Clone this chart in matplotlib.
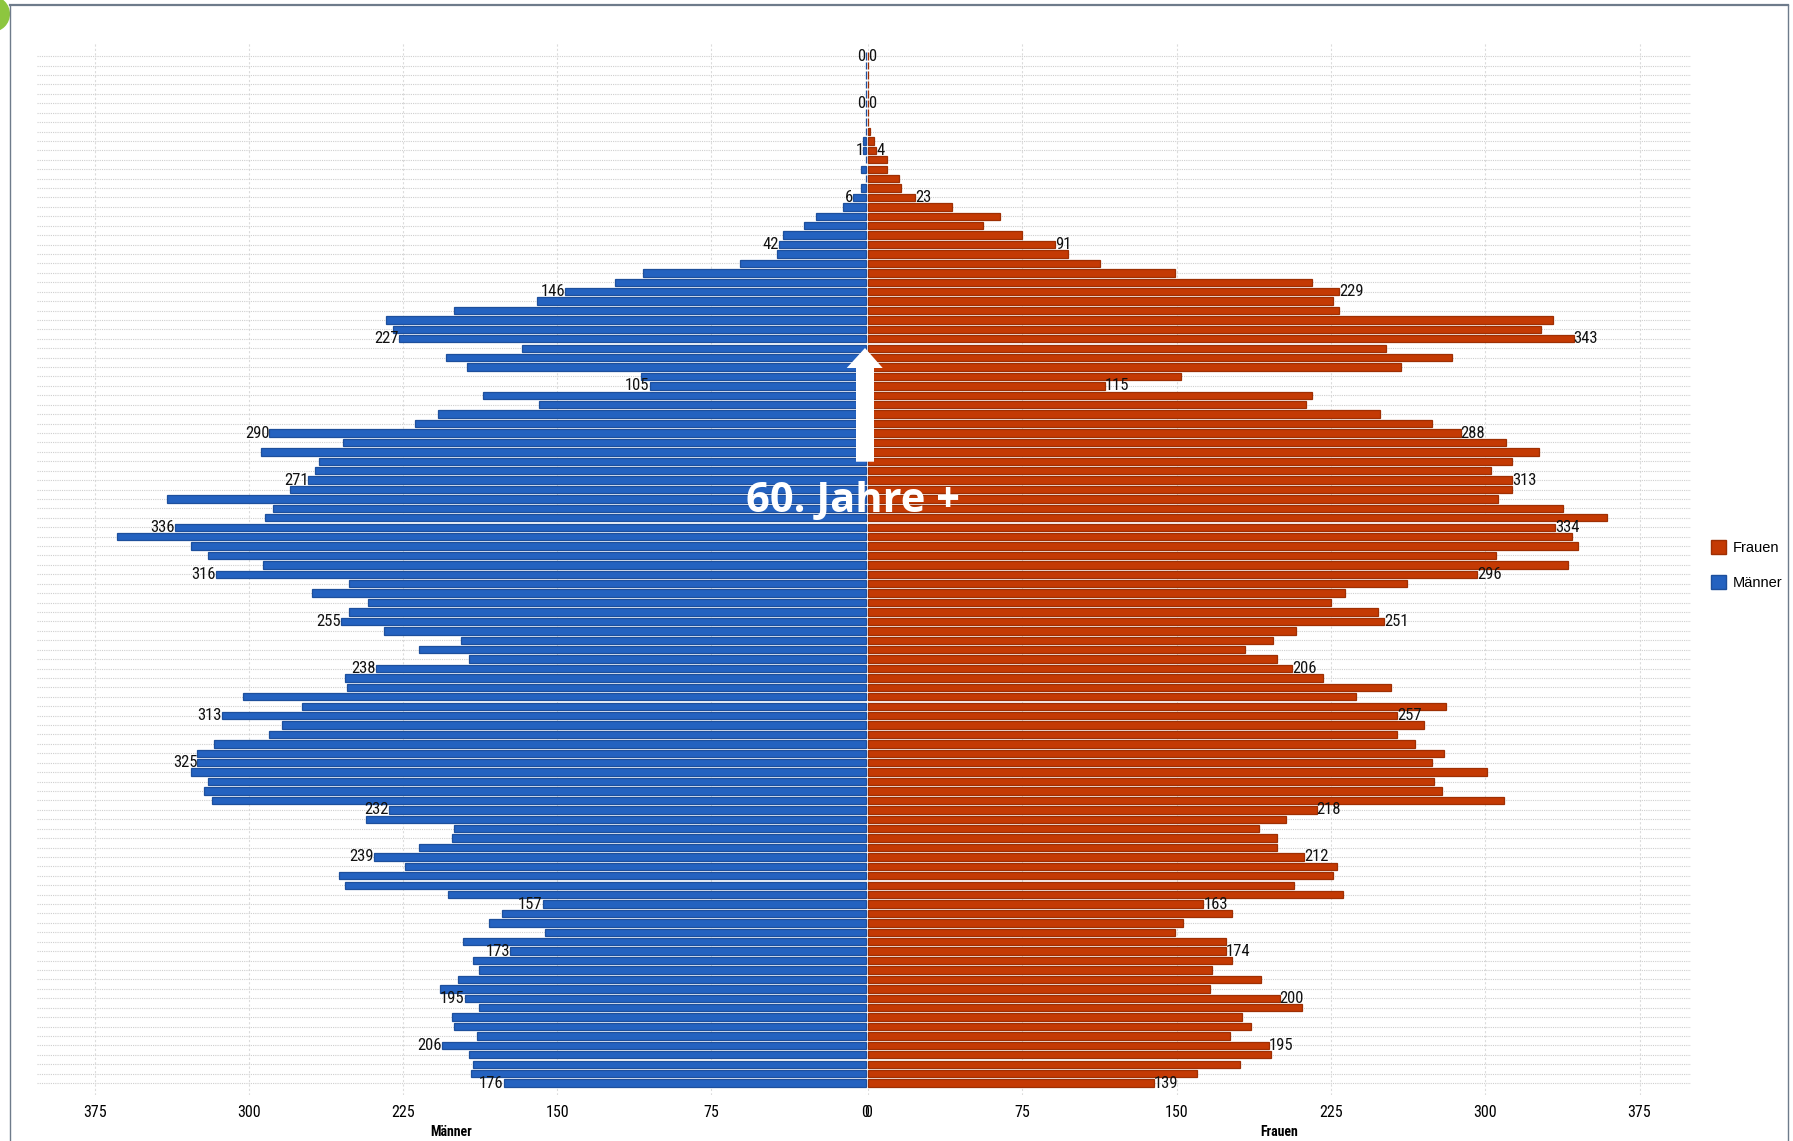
import matplotlib
matplotlib.use("Agg")
import matplotlib.pyplot as plt
from matplotlib import font_manager as fm
from matplotlib.patches import Patch, Polygon, Ellipse
from matplotlib.lines import Line2D

# ---------------- data ----------------
ages = list(range(1, 111))  # bottom (1) to top (110)

maenner = [176, 192, 191, 193, 206, 189, 200, 201, 188, 195,
           207, 198, 188, 191, 173, 196, 156, 183, 177, 157,
           203, 253, 256, 224, 239, 217, 201, 200, 243, 232,
           318, 322, 320, 328, 325, 325, 317, 290, 284, 313,
           274, 303, 252, 253, 238, 193, 217, 197, 234, 255,
           251, 242, 269, 251, 316, 293, 320, 328, 364, 336,
           292, 288, 340, 280, 271, 268, 266, 294, 254, 290,
           219, 208, 159, 186, 105, 109, 194, 204, 167, 227,
           230, 233, 200, 160, 146, 122, 108, 61, 43, 42,
           40, 30, 24, 11, 6, 2, 0, 2, 0, 1,
           1, 0, 0, 0, 0, 0, 0, 0, 0, 0]

frauen = [139, 160, 181, 196, 195, 176, 186, 182, 211, 200,
          166, 191, 167, 177, 174, 174, 149, 153, 177, 163,
          231, 207, 226, 228, 212, 199, 199, 190, 203, 218,
          309, 279, 275, 301, 274, 280, 266, 257, 270, 257,
          281, 237, 254, 221, 206, 199, 183, 197, 208, 251,
          248, 225, 232, 262, 296, 340, 305, 345, 342, 334,
          359, 338, 306, 313, 313, 303, 313, 326, 310, 288,
          274, 249, 213, 216, 115, 152, 259, 284, 252, 343,
          327, 333, 229, 226, 229, 216, 149, 113, 97, 91,
          75, 56, 64, 41, 23, 16, 15, 9, 9, 4,
          3, 1, 0, 0, 0, 0, 0, 0, 0, 0]

label_ages_m = [1, 5, 10, 15, 20, 25, 30, 35, 40, 45, 50, 55, 60, 65, 70,
                75, 80, 85, 90, 95, 100, 105, 110]
label_ages_f = [1, 5, 10, 15, 20, 25, 30, 40, 45, 50, 55, 60, 65, 70,
                75, 80, 85, 90, 95, 100, 105, 110]

xticks = [0, 75, 150, 225, 300, 375]
series_names = ["Frauen", "Männer"]
annotation = "60. Jahre +"

# ---------------- style ----------------
W, H = 1793, 1141
BLUE, BLUE_E = "#2462c0", "#1d4f9c"
RED, RED_E = "#c43a04", "#9e2f03"
GRID = "#cfcfcf"

names = {f.name for f in fm.fontManager.ttflist}
narrow = None
for n in ["Liberation Sans Narrow", "Roboto Condensed", "Open Sans Condensed",
          "Arial Narrow"]:
    if n in names:
        narrow = n
        break
if narrow is None:
    NARROW = dict(family=["DejaVu Sans"], stretch="condensed")
else:
    NARROW = dict(family=[narrow, "DejaVu Sans"])

fig = plt.figure(figsize=(W / 100, H / 100), dpi=100)
fig.patch.set_facecolor("white")

top_f = 1 - 42.7 / H
bot_f = 1 - 1095 / H
axL = fig.add_axes([37 / W, bot_f, (865.5 - 37) / W, top_f - bot_f])
axR = fig.add_axes([868 / W, bot_f, (1691 - 868) / W, top_f - bot_f])

ylim = (-0.27, 111.43)

for ax, vals, col, ecol, lab_ages, xlim, ha, xlabel in [
        (axL, maenner, BLUE, BLUE_E, label_ages_m, (403, 0), "right", "Männer"),
        (axR, frauen, RED, RED_E, label_ages_f, (0, 400), "left", "Frauen")]:
    bars = ax.barh(ages, vals, height=0.78, color=col, edgecolor=ecol,
                   linewidth=0.9, zorder=3)
    for b in bars:
        b.set_clip_on(False)
    ax.set_xlim(*xlim)
    ax.set_ylim(*ylim)
    ax.set_yticks(ages)
    ax.set_yticklabels([])
    ax.set_xticks(xticks)
    ax.set_xticklabels([str(t) for t in xticks])
    ax.tick_params(axis="y", length=0)
    ax.tick_params(axis="x", length=0, pad=7, labelsize=11.5)
    for lbl in ax.get_xticklabels():
        lbl.set_fontproperties(fm.FontProperties(size=11.5, **NARROW))
    ax.grid(axis="y", color=GRID, linestyle=(0, (1, 1)), linewidth=0.8)
    ax.grid(axis="x", color="#dcdcdc", linestyle=(0, (2, 2)), linewidth=0.8)
    ax.set_axisbelow(True)
    for s in ax.spines.values():
        s.set_visible(False)
    ax.set_xlabel(xlabel, fontsize=10, fontweight="bold", labelpad=4, **NARROW)
    for a, v in zip(ages, vals):
        if a in lab_ages:
            ax.text(v, a, str(v), ha=ha, va="center", fontsize=12,
                    color="#111111", zorder=5, **NARROW)

# arrow (decoration)
def px(x, y):
    return (x / W, 1 - y / H)

arrow_pts = [px(856, 461.7), px(874, 461.7), px(874, 368), px(882.7, 368),
             px(865, 348), px(846.7, 368), px(856, 368)]
fig.patches.append(Polygon(arrow_pts, closed=True, facecolor="white",
                           edgecolor="none", transform=fig.transFigure,
                           zorder=10))

fig.text(853 / W, 1 - 511.7 / H, annotation, ha="center", va="baseline",
         color="white", fontsize=30, fontweight="bold",
         family=["Open Sans", "DejaVu Sans"], zorder=11)

# legend
handles = [Patch(facecolor=RED, edgecolor=RED_E, label=series_names[0]),
           Patch(facecolor=BLUE, edgecolor=BLUE_E, label=series_names[1])]
fig.legend(handles=handles, loc="center left",
           bbox_to_anchor=(1698 / W, 1 - 565 / H), frameon=False,
           handlelength=1.05, handleheight=1.1,
           handletextpad=0.45, labelspacing=1.4,
           prop=dict(family=["Liberation Sans", "DejaVu Sans"], size=10.5))

# frame & corner decoration
BORDER = "#6e7b8b"
fig.add_artist(Line2D([9.8 / W, 9.8 / W], [0, 1 - 5 / H], color=BORDER, lw=1.0,
                      transform=fig.transFigure))
fig.add_artist(Line2D([9.8 / W, 1788 / W], [1 - 5 / H, 1 - 5 / H],
                      color=BORDER, lw=1.6, transform=fig.transFigure))
fig.add_artist(Line2D([1788 / W, 1788 / W], [0, 1 - 5 / H], color=BORDER,
                      lw=1.0, transform=fig.transFigure))
fig.add_artist(Ellipse((-8 / W, 1 - 14 / H), 36 / W, 36 / H,
                       facecolor="#8dc63f", edgecolor="none",
                       transform=fig.transFigure))

fig.savefig("out.png", dpi=100, facecolor="white")
